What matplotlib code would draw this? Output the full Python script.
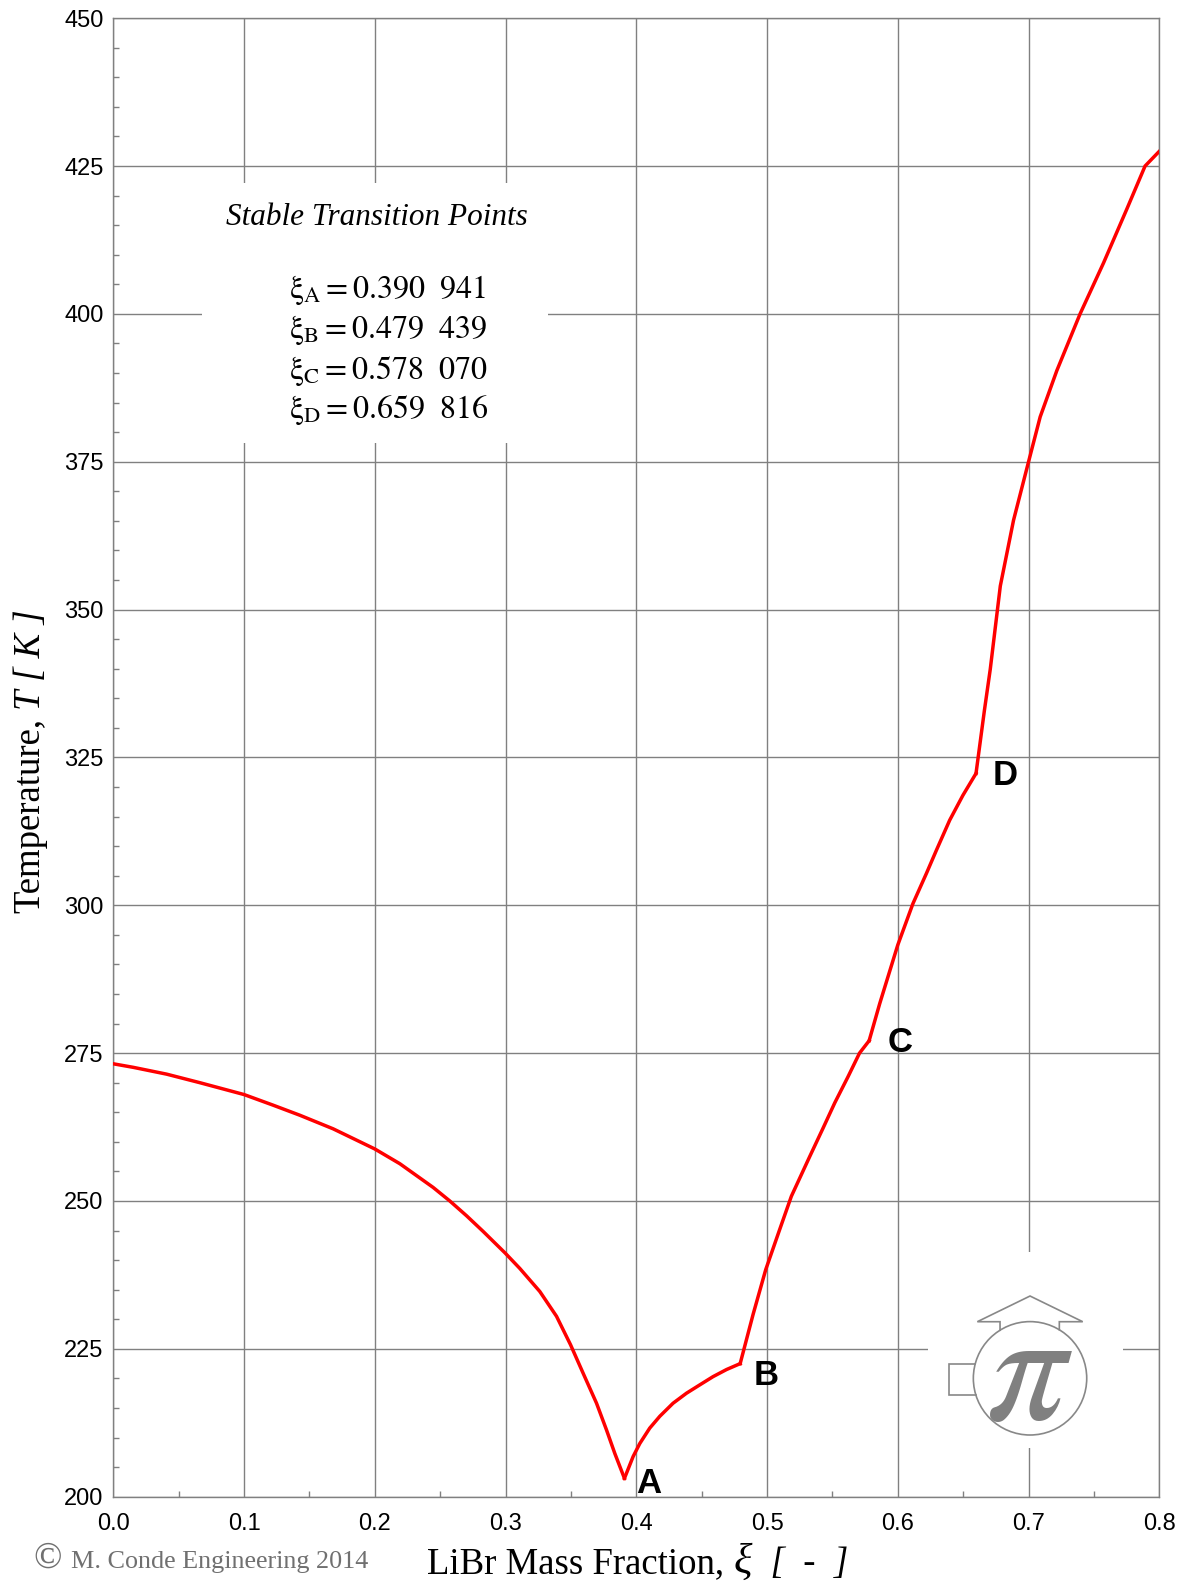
import matplotlib
matplotlib.use("Agg")
import matplotlib.pyplot as plt
from matplotlib.patches import Circle
from matplotlib.ticker import MultipleLocator, FormatStrFormatter

# LiBr - H2O solid/liquid equilibrium, one list pair per solid phase
ice_xi = [0.0, 0.0153, 0.0408, 0.0663, 0.10, 0.1223, 0.1427, 0.1682, 0.20,
          0.2192, 0.2446, 0.2574, 0.2702, 0.2829, 0.2997, 0.3109, 0.3262,
          0.3390, 0.3497, 0.3593, 0.3696, 0.3772, 0.3836, 0.390941]
ice_T = [273.2, 272.6, 271.45, 270.0, 268.0, 266.2, 264.5, 262.2, 258.8,
         256.3, 252.3, 250.0, 247.5, 244.85, 241.2, 238.6, 234.7,
         230.5, 225.7, 220.9, 215.8, 211.3, 207.3, 203.1]

penta_xi = [0.390941, 0.3976, 0.4027, 0.4103, 0.4180, 0.4281, 0.4384,
            0.4485, 0.4587, 0.4690, 0.479439]
penta_T = [203.1, 206.8, 209.0, 211.6, 213.6, 215.8, 217.5,
           218.9, 220.3, 221.5, 222.5]

tri_xi = [0.479439, 0.4893, 0.4990, 0.5097, 0.5186, 0.5326, 0.5428,
          0.5518, 0.5619, 0.5707, 0.578070]
tri_T = [222.5, 230.8, 238.4, 245.2, 250.8, 257.5, 262.3,
         266.6, 271.0, 275.0, 277.1]

di_xi = [0.578070, 0.5862, 0.6, 0.6116, 0.6219, 0.6295, 0.6397, 0.6498,
         0.659816]
di_T = [277.1, 283.4, 293.3, 300.3, 305.4, 309.3, 314.4, 318.6, 322.3]

mono_xi = [0.659816, 0.6662, 0.6707, 0.6784, 0.6885, 0.7, 0.7089, 0.7216,
           0.7394, 0.7573, 0.7751, 0.7891, 0.8]
mono_T = [322.3, 332.9, 339.9, 354.0, 365.1, 375.0, 382.6, 390.4,
          400.0, 408.6, 417.7, 425.0, 427.5]

point_names = ["A", "B", "C", "D"]
point_xi = ["0.390  941", "0.479  439", "0.578  070", "0.659  816"]

grey = "#808080"
serif = ["Liberation Serif", "DejaVu Serif"]

plt.rcParams["font.family"] = ["Liberation Sans", "DejaVu Sans"]
plt.rcParams["mathtext.fontset"] = "stix"

fig = plt.figure(figsize=(11.86, 15.83), dpi=100)
fig.patch.set_facecolor("white")
ax = fig.add_axes([0.0955, 0.05452, 0.8820, 0.93398])

for xs, ys in [(ice_xi, ice_T), (penta_xi, penta_T), (tri_xi, tri_T),
               (di_xi, di_T), (mono_xi, mono_T)]:
    ax.plot(xs, ys, color="#ff0000", lw=2.5, solid_joinstyle="miter", zorder=3)

ax.set_xlim(0.0, 0.8)
ax.set_ylim(200, 450)
ax.xaxis.set_major_locator(MultipleLocator(0.1))
ax.xaxis.set_minor_locator(MultipleLocator(0.05))
ax.yaxis.set_major_locator(MultipleLocator(25))
ax.yaxis.set_minor_locator(MultipleLocator(5))
ax.xaxis.set_major_formatter(FormatStrFormatter("%.1f"))
ax.grid(which="major", color=grey, lw=1.0)
ax.set_axisbelow(True)
ax.tick_params(which="both", direction="in", color=grey, width=1.0,
               labelsize=17, labelcolor="black")
ax.tick_params(which="major", length=0)
ax.tick_params(which="minor", length=4.5)
ax.tick_params(axis="x", pad=12)
ax.tick_params(axis="y", pad=7)
for s in ax.spines.values():
    s.set_color(grey)
    s.set_linewidth(1.0)

# transition point letters
letter_pos = [(0.4002, 200.6), (0.4898, 218.9), (0.5925, 275.2), (0.6723, 320.3)]
for name, (lx, ly) in zip(point_names, letter_pos):
    ax.text(lx, ly, name, fontsize=25, fontweight="bold", ha="left",
            va="baseline", zorder=4)

# axis titles, the symbol part set in italics right after the plain part
xl = fig.text(0.4895, 0.0063, "LiBr Mass Fraction, ", fontsize=26.5,
              family=serif, ha="center", va="baseline")
xi_sym = ax.annotate("\u03be", xy=(1, 0), xycoords=xl, xytext=(0, -0.8),
                     textcoords="offset points", fontsize=31, family=serif,
                     style="italic", ha="left", va="bottom",
                     annotation_clip=False)
ax.annotate("  [  -  ]", xy=(1, 0), xycoords=xi_sym, xytext=(0, 0.8),
            textcoords="offset points", fontsize=26.5, family=serif,
            style="italic", ha="left", va="bottom", annotation_clip=False)

yl = fig.text(0.0262, 0.5205 - 0.033, "Temperature, ", fontsize=26.5,
              family=serif, ha="center", va="center", rotation=90)
ax.annotate("T [ K ]", xy=(0, 1), xycoords=yl, fontsize=26.5, family=serif,
            style="italic", ha="left", va="bottom", rotation=90,
            annotation_clip=False)

# copyright line
fig.text(0.0278, 0.0095, "\u00a9", fontsize=27, family=serif, color="#707070",
         ha="left", va="baseline")
fig.text(0.0599, 0.0095, "M. Conde Engineering 2014", fontsize=18.8,
         family=serif, color="#707070", ha="left", va="baseline")

# white panel listing the transition points
box = fig.add_axes([0.1703, 0.7202, 0.2917, 0.1642])
box.set_facecolor("white")
box.set_xticks([])
box.set_yticks([])
for s in box.spines.values():
    s.set_visible(False)
box.text(0.505, 0.8385, "Stable Transition Points", fontsize=22.5,
         family=serif, style="italic", ha="center", va="baseline",
         transform=box.transAxes)
rows_y = [0.5565, 0.4035, 0.2475, 0.0955]
for name, val, yy in zip(point_names, point_xi, rows_y):
    box.text(0.252, yy,
             r"$\mathrm{\xi}_{\mathrm{%s}} = \mathrm{%s}$" % (name, val.replace(" ", r"\ ")),
             fontsize=23, ha="left", va="baseline", transform=box.transAxes)

# logo
logo = fig.add_axes([0.7825, 0.08528, 0.1644, 0.1238])
logo.set_facecolor("white")
logo.set_xlim(928, 1123)
logo.set_ylim(1448, 1252)
logo.set_xticks([])
logo.set_yticks([])
for s in logo.spines.values():
    s.set_visible(False)
lc = "#888888"
logo.add_patch(Circle((1030, 1378.3), 56.7, fill=False, ec=lc, lw=1.2))
logo.plot([1000, 1000, 977.3, 1030, 1082.7, 1059.3, 1059.3],
          [1330.2, 1321.7, 1321.7, 1296, 1321.7, 1321.7, 1329.8],
          color=lc, lw=1.2, solid_joinstyle="miter")
logo.plot([975.1, 949.3, 949.3, 975.8], [1364, 1364, 1395, 1395],
          color=lc, lw=1.2, solid_joinstyle="miter")
logo.text(1029, 1378, r"$\pi$", fontsize=114, color="#808080", ha="center",
          va="center")

fig.savefig("out.png", dpi=100, facecolor="white")
